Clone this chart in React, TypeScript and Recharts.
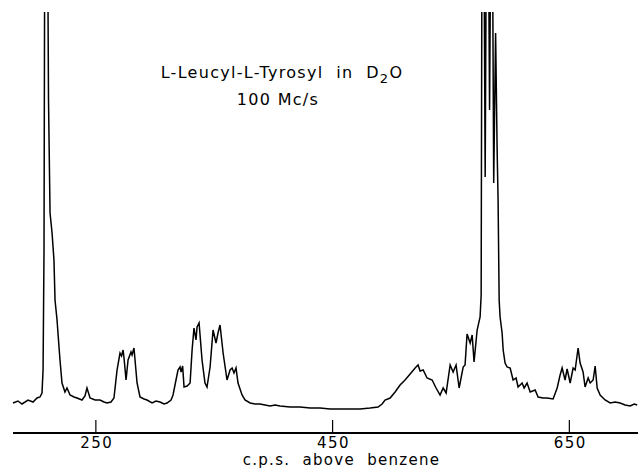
import { LineChart, Line, XAxis, YAxis } from 'recharts';

// chemical shift (c.p.s. above benzene) and recorder signal (arbitrary units)
const shiftCps = [
  180.0, 184.2, 187.6, 192.7, 196.9, 200.3, 202.8, 204.5, 205.4, 206.2,
  207.0, 208.8, 210.0, 211.3, 213.0, 214.6, 215.5, 217.2, 218.0, 219.7,
  221.4, 223.9, 225.6, 228.2, 231.5, 234.1, 238.3, 240.8, 242.5, 245.1,
  249.3, 253.5, 256.9, 259.4, 262.8, 265.3, 267.9, 270.4, 271.7, 273.0,
  273.8, 275.5, 277.2, 279.7, 280.6, 282.2, 284.8, 287.3, 290.7, 293.2,
  297.5, 300.8, 304.2, 307.6, 310.1, 313.5, 315.2, 317.7, 319.4, 321.1,
  322.0, 323.3, 324.5, 327.1, 329.6, 331.3, 332.9, 334.6, 335.5, 337.2,
  339.7, 342.2, 343.9, 346.5, 349.0, 351.5, 353.2, 354.9, 357.5, 360.8,
  363.4, 365.1, 366.7, 368.4, 370.1, 373.5, 376.0, 380.3, 384.5, 388.7,
  392.9, 397.2, 401.4, 405.6, 414.1, 422.5, 431.0, 439.4, 447.9, 456.3,
  464.8, 473.2, 481.7, 488.4, 491.8, 494.3, 498.6, 502.8, 507.0, 511.2,
  515.5, 519.7, 522.2, 523.9, 526.5, 529.8, 534.1, 537.4, 540.8, 543.4,
  545.9, 549.3, 551.8, 554.3, 556.9, 560.3, 561.9, 563.6, 566.2, 567.9,
  569.5, 572.1, 574.6, 575.5, 576.3, 577.6, 578.9, 580.1, 581.4, 582.6,
  583.9, 584.8, 586.1, 587.7, 589.0, 589.8, 590.7, 591.5, 593.2, 594.1,
  595.7, 597.4, 600.0, 602.5, 605.0, 606.7, 610.1, 611.8, 614.3, 616.9,
  621.1, 623.6, 627.8, 631.2, 636.3, 639.7, 642.2, 643.9, 646.4, 648.1,
  650.7, 653.2, 654.9, 657.4, 659.1, 661.6, 663.3, 665.9, 667.6, 670.1,
  671.8, 673.5, 676.0, 680.2, 684.5, 688.7, 692.9, 697.1, 701.4, 704.8,
  707.3,
];

const signal = [
  30, 32, 29, 33, 31, 35, 36, 40, 63, 183,
  600, 600, 333, 220, 200, 173, 133, 113, 100, 73,
  50, 41, 45, 38, 36, 35, 33, 37, 45, 35,
  33, 33, 31, 30, 31, 35, 63, 80, 77, 83,
  75, 53, 73, 81, 78, 85, 50, 36, 34, 33,
  30, 32, 31, 29, 30, 33, 38, 53, 63, 66,
  61, 67, 46, 47, 50, 83, 105, 93, 106, 110,
  73, 50, 46, 66, 103, 90, 100, 108, 80, 53,
  63, 65, 60, 65, 50, 38, 33, 30, 29, 29,
  28, 27, 28, 27, 26, 26, 25, 25, 24, 24,
  24, 24, 25, 26, 29, 33, 35, 41, 48, 53,
  59, 65, 68, 62, 63, 55, 53, 45, 38, 45,
  40, 68, 61, 68, 45, 66, 68, 99, 90, 98,
  71, 103, 116, 138, 560, 560, 256, 560, 560, 323,
  560, 560, 250, 400, 283, 233, 133, 116, 100, 83,
  70, 66, 65, 53, 55, 46, 50, 45, 50, 41,
  43, 36, 35, 35, 34, 45, 58, 65, 53, 64,
  50, 65, 63, 85, 70, 61, 46, 55, 50, 53,
  67, 45, 38, 33, 30, 31, 30, 28, 27, 29,
  28,
];

const tickValues = [250, 450, 650];
const titleText = 'L-Leucyl-L-Tyrosyl  in  D';
const subtitleText = '100 Mc/s';
const axisTitle = 'c.p.s.  above  benzene';

const spectrum = shiftCps.map((cps, i) => ({ cps, signal: signal[i] }));

const FONT = '"DejaVu Sans", sans-serif';

function UpTick({ x, y, payload }: any) {
  return (
    <g>
      <line x1={x} x2={x} y1={y - 13} y2={y} stroke="#000" strokeWidth={1.2} />
      <text
        x={x + 1}
        y={y + 15}
        textAnchor="middle"
        fontSize={15}
        letterSpacing={1.5}
        fontFamily={FONT}
        fill="#000"
      >
        {payload.value}
      </text>
    </g>
  );
}

export default function App() {
  return (
    <div style={{ position: 'absolute', left: 0, top: 0, width: 638, height: 470, background: '#fff' }}>
      <LineChart
        width={638}
        height={470}
        data={spectrum}
        margin={{ top: 12, right: 0, bottom: 0, left: 13 }}
      >
        <XAxis
          dataKey="cps"
          type="number"
          domain={[180, 708]}
          ticks={tickValues}
          height={37}
          tickSize={0}
          tickMargin={0}
          tickLine={false}
          axisLine={{ stroke: '#000', strokeWidth: 2 }}
          tick={<UpTick />}
          label={{
            content: ({ viewBox }: any) => (
              <text
                x={viewBox.x + viewBox.width / 2 + 16}
                y={viewBox.y + 32}
                textAnchor="middle"
                fontSize={15}
                letterSpacing={1.3}
                fontFamily={FONT}
                fill="#000"
                style={{ whiteSpace: 'pre' }}
              >
                {axisTitle}
              </text>
            ),
          }}
        />
        <YAxis type="number" domain={[0, 421]} allowDataOverflow hide />
        <Line
          type="linear"
          dataKey="signal"
          stroke="#000"
          strokeWidth={1.5}
          dot={false}
          isAnimationActive={false}
        />
      </LineChart>
      <svg
        width={638}
        height={470}
        style={{ position: 'absolute', left: 0, top: 0, pointerEvents: 'none' }}
      >
        <text
          x={282}
          y={78}
          textAnchor="middle"
          fontSize={16}
          letterSpacing={1.3}
          fontFamily={FONT}
          fill="#000"
          style={{ whiteSpace: 'pre' }}
        >
          {titleText}
          <tspan fontSize={13} dy={5}>2</tspan>
          <tspan dy={-5}>O</tspan>
        </text>
        <text
          x={278}
          y={105}
          textAnchor="middle"
          fontSize={16}
          letterSpacing={1.3}
          fontFamily={FONT}
          fill="#000"
          style={{ whiteSpace: 'pre' }}
        >
          {subtitleText}
        </text>
      </svg>
    </div>
  );
}
